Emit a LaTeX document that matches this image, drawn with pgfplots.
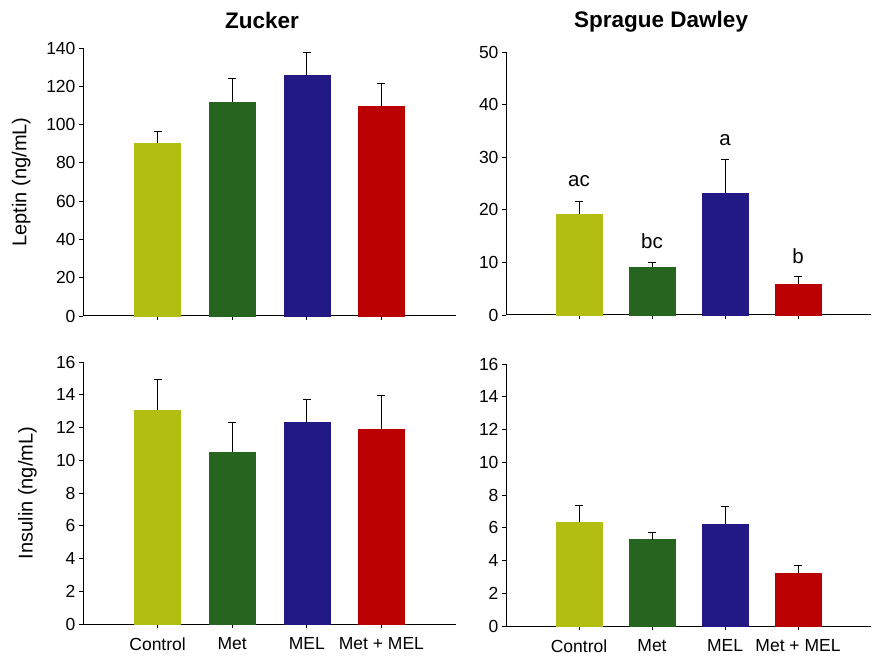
\documentclass[border=0pt]{standalone}
\usepackage{fontspec}
\setmainfont{Liberation Sans}
\usepackage{pgfplots}
\pgfplotsset{compat=1.18}
\definecolor{cCtrl}{RGB}{178,190,18}
\definecolor{cMet}{RGB}{39,100,32}
\definecolor{cMEL}{RGB}{34,25,132}
\definecolor{cBoth}{RGB}{186,0,0}
\tikzset{ttl/.style={font=\fontsize{22.5}{26}\selectfont\bfseries},
  lett/.style={font=\fontsize{20.5}{24}\selectfont}}
\pgfplotsset{
 panel/.style={
  scale only axis, anchor=south west, clip=false,
  axis x line=bottom, axis y line=left,
  axis line style={-, line width=1pt, black},
  xmin=-1, xmax=4, ymin=0,
  xtick={0,1,2,3},
  tick style={black, line width=0.8pt},
  tick align=outside, major tick length=4pt,
  ybar, bar width=46pt,
  /pgf/number format/assume math mode=true,
  tick label style={font=\fontsize{17.5}{20}\selectfont},
  xticklabel style={yshift=-6pt},
  label style={font=\fontsize{20}{24}\selectfont},
  error bars/y dir=plus, error bars/y explicit,
  error bars/error bar style={draw=black, line width=0.8pt},
  error bars/error mark options={draw=black, rotate=90, mark size=4pt, line width=0.8pt},
 },
}
\begin{document}
\begin{tikzpicture}
\path[use as bounding box] (0,0) rectangle (874pt,656pt);
% Top-left: Zucker leptin
\begin{axis}[panel, at={(83pt,340pt)}, width=373pt, height=268pt,
  ymax=140, ytick={0,20,...,140}, xticklabels={},
  ylabel={Leptin (ng/mL)},
  ylabel style={at={(axis description cs:-0.166,0.5)}, anchor=center}]
\addplot[fill=cCtrl, draw=cCtrl, bar shift=0pt] coordinates {(0,90.2) +- (0,6.1)};
\addplot[fill=cMet, draw=cMet, bar shift=0pt] coordinates {(1,111.8) +- (0,12.2)};
\addplot[fill=cMEL, draw=cMEL, bar shift=0pt] coordinates {(2,125.7) +- (0,11.8)};
\addplot[fill=cBoth, draw=cBoth, bar shift=0pt] coordinates {(3,109.7) +- (0,11.8)};
\node[ttl, anchor=base, yshift=19pt] at (axis description cs:0.48,1) {Zucker};
\end{axis}
% Top-right: Sprague Dawley leptin
\begin{axis}[panel, at={(506pt,341pt)}, width=365pt, height=263pt,
  ymax=50, ytick={0,10,...,50}, xticklabels={}]
\addplot[fill=cCtrl, draw=cCtrl, bar shift=0pt] coordinates {(0,19.2) +- (0,2.4)};
\addplot[fill=cMet, draw=cMet, bar shift=0pt] coordinates {(1,9.1) +- (0,0.9)};
\addplot[fill=cMEL, draw=cMEL, bar shift=0pt] coordinates {(2,23.2) +- (0,6.4)};
\addplot[fill=cBoth, draw=cBoth, bar shift=0pt] coordinates {(3,5.9) +- (0,1.5)};
\node[lett] at (axis cs:0,25.4) {ac};
\node[lett] at (axis cs:1,14.0) {bc};
\node[lett] at (axis cs:2,33.3) {a};
\node[lett] at (axis cs:3,11.1) {b};
\node[ttl, anchor=base, yshift=25pt] at (axis description cs:0.425,1) {Sprague Dawley};
\end{axis}
% Bottom-left: Zucker insulin
\begin{axis}[panel, at={(83pt,32pt)}, width=373pt, height=262pt,
  ymax=16, ytick={0,2,...,16},
  xticklabels={Control,Met,MEL,Met + MEL},
  ylabel={Insulin (ng/mL)},
  ylabel style={at={(axis description cs:-0.149,0.5)}, anchor=center}]
\addplot[fill=cCtrl, draw=cCtrl, bar shift=0pt] coordinates {(0,13.05) +- (0,1.91)};
\addplot[fill=cMet, draw=cMet, bar shift=0pt] coordinates {(1,10.5) +- (0,1.84)};
\addplot[fill=cMEL, draw=cMEL, bar shift=0pt] coordinates {(2,12.3) +- (0,1.4)};
\addplot[fill=cBoth, draw=cBoth, bar shift=0pt] coordinates {(3,11.87) +- (0,2.08)};
\end{axis}
% Bottom-right: Sprague Dawley insulin
\begin{axis}[panel, at={(506pt,30pt)}, width=365pt, height=262pt,
  ymax=16, ytick={0,2,...,16},
  xticklabels={Control,Met,MEL,Met + MEL}]
\addplot[fill=cCtrl, draw=cCtrl, bar shift=0pt] coordinates {(0,6.33) +- (0,1.02)};
\addplot[fill=cMet, draw=cMet, bar shift=0pt] coordinates {(1,5.28) +- (0,0.42)};
\addplot[fill=cMEL, draw=cMEL, bar shift=0pt] coordinates {(2,6.21) +- (0,1.07)};
\addplot[fill=cBoth, draw=cBoth, bar shift=0pt] coordinates {(3,3.23) +- (0,0.5)};
\end{axis}
\end{tikzpicture}
\end{document}
